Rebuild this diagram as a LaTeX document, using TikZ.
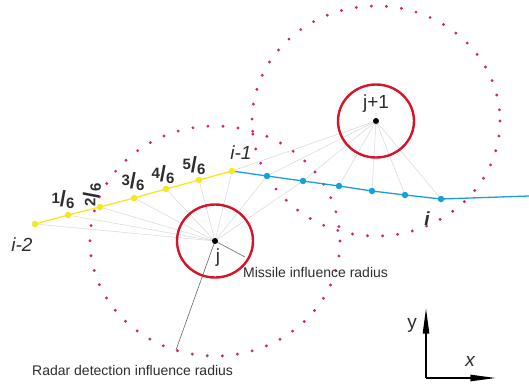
\documentclass[tikz,border=0pt]{standalone}
\usepackage{fontspec}
\setmainfont{Liberation Sans}
\usepackage{xcolor}
\usetikzlibrary{arrows.meta,calc}
\definecolor{ink}{RGB}{45,45,45}
\definecolor{trackyel}{RGB}{245,232,30}
\definecolor{trackblu}{RGB}{25,160,220}
\definecolor{missred}{RGB}{212,20,40}
\definecolor{radarpink}{RGB}{205,35,120}
\definecolor{ray}{RGB}{215,215,215}
\newcommand{\sixth}[1]{\raisebox{.7ex}{\fontsize{15}{15}\selectfont #1}{\fontsize{22}{22}\selectfont /}\raisebox{-.35ex}{\fontsize{15}{15}\selectfont 6}}
\tikzset{
  wp/.style={circle, fill=#1, inner sep=0pt, minimum size=6.5pt},
  wp/.default=trackyel,
  ctr/.style={circle, fill=black, inner sep=0pt, minimum size=6pt},
  lbl/.style={font=\fontsize{19}{19}\selectfont, text=ink, inner sep=0pt},
  frac/.style={font=\bfseries, text=ink, inner sep=0pt},
  note/.style={font=\fontsize{14}{16}\selectfont, text=ink, inner sep=0pt, anchor=west},
  rayln/.style={draw=ray, line width=0.5pt},
  radar/.style={draw=radarpink, line width=3.2pt, line cap=round, dash pattern=on 0pt off 15.1pt},
  missile/.style={draw=missred, line width=2.4pt},
  trk/.style={line width=1.3pt, draw=#1},
  axis/.style={line width=1.6pt, draw=black, -{Stealth[length=9mm, width=2.2mm, inset=0pt]}},
}
\begin{document}
\begin{tikzpicture}[x=1pt,y=-1pt]
  \useasboundingbox (0,0) rectangle (529,383);

  % threat centres
  \coordinate (jc) at (215,241);
  \coordinate (jn) at (376,121);

  % track points
  \coordinate (im2) at (35,224);
  \coordinate (f1) at (68,215);
  \coordinate (f2) at (100,207);
  \coordinate (f3) at (134,198);
  \coordinate (f4) at (166,189);
  \coordinate (f5) at (199,180);
  \coordinate (im1) at (232,171);
  \coordinate (b1) at (267,176);
  \coordinate (b2) at (303,181);
  \coordinate (b3) at (339,186);
  \coordinate (b4) at (372,191);
  \coordinate (b5) at (405,195);
  \coordinate (ii) at (441,199);
  \coordinate (bend) at (529,196);

  % sight lines
  \foreach \p in {im2,f1,f2,f3,f4,f5,im1,b1,b2}
    \draw[rayln] (jc) -- (\p);
  \foreach \p in {im1,b1,b2,b3,b4,b5,ii}
    \draw[rayln] (jn) -- (\p);

  % radar rings
  \draw[radar] (jc) ellipse [x radius=125, y radius=115];
  \draw[radar] (jn) ellipse [x radius=124, y radius=115];

  % radius leaders
  \coordinate (mr) at (245,257);
  \coordinate (rr) at (176,350);
  \draw[draw=gray!80!black, line width=0.6pt] (jc) -- (mr);
  \draw[draw=gray!80!black, line width=0.6pt] (jc) -- (rr);

  % track
  \draw[trk=trackyel] (im2) -- (f1) -- (f2) -- (f3) -- (f4) -- (f5) -- (im1);
  \draw[trk=trackblu] (im1) -- (b1) -- (b2) -- (b3) -- (b4) -- (b5) -- (ii) -- (bend);

  % missile rings
  \draw[missile] (jc) ellipse [x radius=38, y radius=36.5];
  \draw[missile] (jn) ellipse [x radius=38, y radius=36.5];

  \foreach \p in {im2,f1,f2,f3,f4,f5,im1}
    \node[wp] at (\p) {};
  \foreach \p in {b1,b2,b3,b4,b5,ii}
    \node[wp=trackblu] at (\p) {};
  \node[ctr] at (jc) {};
  \node[ctr] at (jn) {};

  % labels
  \node[lbl] (lim2) at (22,245) {\itshape i-2};
  \node[lbl] (lim1) at (241,153) {\itshape i-1};
  \node[lbl] (li) at (427,219) {\bfseries\itshape i};
  \node[lbl] (lj) at (218,258) {j};
  \node[lbl] (ljn) at (376,104) {j+1};
  \node[frac] (lf1) at (63,200) {\sixth{1}};
  \node[frac, rotate=90] (lf2) at (92,195) {\sixth{2}};
  \node[frac] (lf3) at (133,182) {\sixth{3}};
  \node[frac] (lf4) at (163,175) {\sixth{4}};
  \node[frac] (lf5) at (194,166) {\sixth{5}};
  \node[note] (lmis) at (243,272) {Missile influence radius};
  \node[note] (lrad) at (32,370) {Radar detection influence radius};

  % axes
  \coordinate (org) at (426,378);
  \coordinate (yend) at (426,308);
  \coordinate (xend) at (496,378);
  \draw[axis] (org) -- (yend);
  \draw[axis] (org) -- (xend);
  \node[lbl] (ly) at (412,325) {y};
  \node[lbl, font=\fontsize{19}{19}\selectfont\itshape] (lx) at (470,361) {x};
\end{tikzpicture}
\end{document}
